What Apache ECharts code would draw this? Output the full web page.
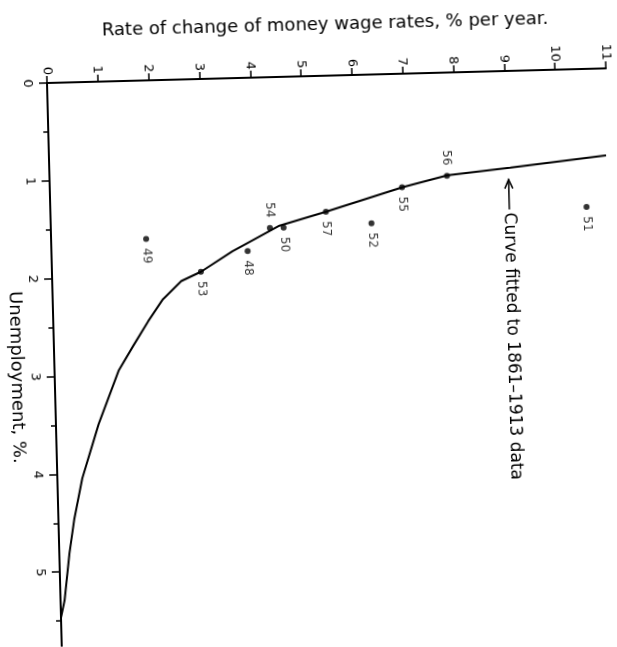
<!DOCTYPE html>
<html>
<head>
<meta charset="utf-8">
<script src="https://cdn.jsdelivr.net/npm/echarts@6/dist/echarts.min.js"></script>
<style>
  html, body { margin: 0; padding: 0; background: #fff; }
  /* the plate is printed slightly askew; turn the whole figure about its origin */
  #chart { width: 617px; height: 647px; transform: rotate(-1.5deg); transform-origin: 47px 83px; }
</style>
</head>
<body>
<div id="chart"></div>
<script>
// Observed years 1948-57: unemployment (%) and rate of change of money wage rates (% per year)
const years = ['48', '49', '50', '51', '52', '53', '54', '55', '56', '57'];
const unemployment = [1.77, 1.62, 1.54, 1.41, 1.52, 1.97, 1.54, 1.16, 1.055, 1.39];
const wageChange = [3.86, 1.87, 4.58, 10.55, 6.31, 2.93, 4.31, 6.93, 7.82, 5.42];

// Curve fitted to the 1861-1913 data, traced point by point
const curveUnemployment = [0.89, 0.99, 1.05, 1.16, 1.39, 1.52, 1.77, 1.97, 2.06, 2.24, 2.46, 2.71, 2.96, 3.50, 4.05, 4.47, 4.81, 5.29, 5.47, 5.80];
const curveWage = [10.96, 9.07, 7.83, 6.94, 5.42, 4.50, 3.56, 2.93, 2.54, 2.17, 1.87, 1.56, 1.26, 0.84, 0.49, 0.31, 0.20, 0.08, 0.00, 0.00];

// Where the curve note points (wage %, unemployment %)
const noteTarget = [9.03, 1.11];

// Year labels printed on the upper side of their dot
const labelsAbove = ['54', '56'];

const FONT = 'DejaVu Sans';
const chart = echarts.init(document.getElementById('chart'), null, { renderer: 'canvas' });

const scatterData = years.map((y, i) => ({
  value: [wageChange[i], unemployment[i]],
  label: { offset: [labelsAbove.includes(y) ? -18 : 17, 0] }
}));

chart.setOption({
  animation: false,
  backgroundColor: '#fff',
  grid: { left: 47, top: 83, width: 559, height: 587, containLabel: false, outerBoundsMode: 'none' },
  xAxis: {
    type: 'value', position: 'top', min: 0, max: 11, interval: 1,
    name: 'Rate of change of money wage rates, % per year.',
    nameLocation: 'middle', nameGap: 42,
    nameTextStyle: { fontFamily: FONT, fontSize: 18, color: '#000' },
    axisLine: { show: true, lineStyle: { color: '#000', width: 2 } },
    axisTick: { show: true, length: 7, lineStyle: { color: '#000', width: 1.5 } },
    axisLabel: { rotate: -90, margin: 8, fontFamily: FONT, fontSize: 13, color: '#000' },
    splitLine: { show: false }
  },
  yAxis: {
    type: 'value', inverse: true, min: 0, max: 6, interval: 1,
    name: 'Unemployment, %.',
    nameLocation: 'middle', nameGap: 29, nameRotate: -90, nameMoveOverlap: false,
    nameTextStyle: { fontFamily: FONT, fontSize: 18, color: '#000' },
    axisLine: { show: true, lineStyle: { color: '#000', width: 2 } },
    axisTick: { show: true, length: 8, lineStyle: { color: '#000', width: 1.5 } },
    minorTick: { show: true, splitNumber: 2, length: 5, lineStyle: { color: '#000', width: 1.5 } },
    axisLabel: { rotate: -90, margin: 13, fontFamily: FONT, fontSize: 13, color: '#000', showMaxLabel: false },
    splitLine: { show: false }
  },
  series: [
    {
      type: 'line',
      data: curveUnemployment.map((u, i) => [curveWage[i], u]),
      showSymbol: false, smooth: false,
      lineStyle: { color: '#000', width: 2 },
      z: 2
    },
    {
      type: 'scatter',
      data: scatterData,
      symbol: 'circle', symbolSize: 6,
      itemStyle: { color: '#000' },
      label: {
        show: true, position: 'inside', rotate: -90,
        formatter: (p) => years[p.dataIndex],
        fontFamily: FONT, fontSize: 12, color: '#000'
      },
      z: 3
    }
  ]
});

// Note with an arrow pointing at the fitted curve
const tip = chart.convertToPixel({ xAxisIndex: 0, yAxisIndex: 0 }, noteTarget);
chart.setOption({
  graphic: [
    {
      type: 'polyline', shape: { points: [[tip[0] - 4, tip[1] + 9], [tip[0], tip[1]], [tip[0] + 4, tip[1] + 9]] },
      style: { stroke: '#000', lineWidth: 1.5, fill: null }
    },
    {
      type: 'line', shape: { x1: tip[0], y1: tip[1], x2: tip[0], y2: tip[1] + 30 },
      style: { stroke: '#000', lineWidth: 1.5 }
    },
    {
      type: 'text', x: tip[0], y: tip[1] + 33, rotation: -Math.PI / 2,
      style: {
        text: 'Curve fitted to 1861–1913 data', fontFamily: FONT, fontSize: 17, fill: '#000',
        align: 'left', verticalAlign: 'middle'
      }
    }
  ]
});
</script>
</body>
</html>
